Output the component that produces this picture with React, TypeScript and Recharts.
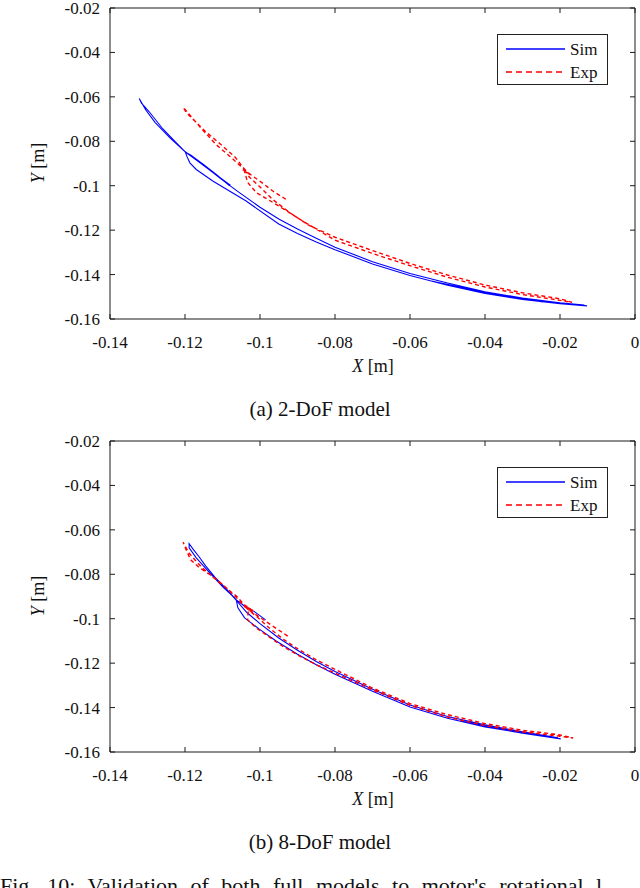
import React from 'react';
import { LineChart, Line, XAxis, YAxis, Legend } from 'recharts';

const FONT = '"Liberation Serif", "Times New Roman", Times, serif';

const xTicks = [-0.14, -0.12, -0.1, -0.08, -0.06, -0.04, -0.02, 0];
const yTicks = [-0.16, -0.14, -0.12, -0.1, -0.08, -0.06, -0.04, -0.02];
const seriesNames = ['Sim', 'Exp'];
const captions = ['(a) 2-DoF model', '(b) 8-DoF model'];
const figText = "Fig. 10: Validation of both full models to motor's rotational l";

// 2-DoF model, simulated trajectory [X, Y]
const sim2DoF: number[][] = [
  [-0.1079, -0.0998], [-0.112, -0.0947], [-0.116, -0.0897], [-0.1201, -0.0845],
  [-0.124, -0.0785], [-0.128, -0.0715], [-0.1305, -0.0658], [-0.1322, -0.0607],
  [-0.1316, -0.0628], [-0.1296, -0.0666], [-0.1262, -0.0738], [-0.1227, -0.08],
  [-0.1199, -0.0849], [-0.1195, -0.0868], [-0.1187, -0.0897], [-0.117, -0.0927],
  [-0.1126, -0.0979], [-0.1037, -0.1069], [-0.095, -0.1172], [-0.09, -0.1215],
  [-0.085, -0.1253], [-0.08, -0.1288], [-0.07, -0.1352], [-0.06, -0.1404],
  [-0.05, -0.1448], [-0.04, -0.1485], [-0.03, -0.1512], [-0.02, -0.1531],
  [-0.0128, -0.1541], [-0.022, -0.1526], [-0.035, -0.1497], [-0.054, -0.143],
  [-0.04, -0.1481], [-0.025, -0.1522], [-0.0135, -0.1537], [-0.02, -0.1527],
  [-0.03, -0.1506], [-0.04, -0.1477], [-0.05, -0.1438], [-0.06, -0.1395],
  [-0.07, -0.1342], [-0.08, -0.1277], [-0.085, -0.1237], [-0.09, -0.1195],
  [-0.095, -0.115], [-0.1, -0.1097], [-0.1055, -0.1031], [-0.11, -0.0975],
  [-0.1152, -0.0906], [-0.1199, -0.0849], [-0.1185, -0.0862], [-0.115, -0.0905],
  [-0.1115, -0.0952], [-0.1081, -0.1],
];

// 2-DoF panel, experimental trajectory [X, Y]
const exp2DoF: number[][] = [
  [-0.0931, -0.1061], [-0.0966, -0.1024], [-0.0995, -0.0986], [-0.102, -0.0956],
  [-0.1037, -0.0934], [-0.1058, -0.0902], [-0.1081, -0.0867], [-0.1117, -0.0815],
  [-0.1155, -0.0745], [-0.1185, -0.0686], [-0.1205, -0.0647], [-0.1196, -0.0672],
  [-0.1176, -0.0705], [-0.1146, -0.0755], [-0.1106, -0.0812], [-0.1066, -0.0872],
  [-0.1045, -0.0918], [-0.103, -0.0945], [-0.1046, -0.0928], [-0.1026, -0.095],
  [-0.1041, -0.0937], [-0.1033, -0.0985], [-0.101, -0.1031], [-0.0957, -0.1084],
  [-0.0886, -0.1159], [-0.08, -0.1245], [-0.07, -0.1305], [-0.06, -0.136],
  [-0.05, -0.1412], [-0.04, -0.1456], [-0.03, -0.149], [-0.02, -0.1516],
  [-0.0168, -0.1525], [-0.02, -0.1509], [-0.03, -0.1482], [-0.04, -0.1447],
  [-0.05, -0.1402], [-0.06, -0.135], [-0.07, -0.1292], [-0.08, -0.1232],
  [-0.087, -0.1178], [-0.092, -0.1122], [-0.0966, -0.1062], [-0.1, -0.1006],
  [-0.1028, -0.0962], [-0.1037, -0.0938],
];

// 8-DoF model, simulated trajectory [X, Y]
const sim8DoF: number[][] = [
  [-0.0985, -0.1005], [-0.1015, -0.0968], [-0.104, -0.0945], [-0.1063, -0.0915],
  [-0.109, -0.0866], [-0.1121, -0.0812], [-0.1145, -0.0762], [-0.1162, -0.0722],
  [-0.1178, -0.0688], [-0.1189, -0.0662], [-0.1189, -0.0681], [-0.117, -0.0726],
  [-0.1134, -0.0794], [-0.11, -0.0855], [-0.1075, -0.0895], [-0.1063, -0.0918],
  [-0.1059, -0.0951], [-0.1041, -0.0996], [-0.1001, -0.1048], [-0.0957, -0.11],
  [-0.09, -0.116], [-0.085, -0.1207], [-0.08, -0.125], [-0.07, -0.1327],
  [-0.06, -0.1397], [-0.05, -0.1448], [-0.04, -0.1487], [-0.03, -0.1515],
  [-0.0198, -0.1541], [-0.03, -0.1512], [-0.046, -0.1462], [-0.035, -0.15],
  [-0.0205, -0.1536], [-0.03, -0.1509], [-0.04, -0.1478], [-0.05, -0.144],
  [-0.06, -0.1388], [-0.07, -0.1318], [-0.08, -0.1238], [-0.085, -0.1193],
  [-0.09, -0.1142], [-0.095, -0.1087], [-0.1, -0.1022], [-0.1035, -0.0972],
  [-0.1063, -0.0918],
];

// 8-DoF panel, experimental trajectory [X, Y]
const exp8DoF: number[][] = [
  [-0.0926, -0.1078], [-0.0962, -0.1038], [-0.0995, -0.1], [-0.1023, -0.0968],
  [-0.1037, -0.0951], [-0.1063, -0.0905], [-0.109, -0.0861], [-0.1112, -0.0828],
  [-0.1138, -0.0795], [-0.1165, -0.0752], [-0.119, -0.0703], [-0.1205, -0.0656],
  [-0.1198, -0.0686], [-0.1185, -0.0735], [-0.1161, -0.0771], [-0.1134, -0.0801],
  [-0.1112, -0.0831], [-0.109, -0.0862], [-0.1063, -0.0898], [-0.104, -0.094],
  [-0.1025, -0.0956], [-0.1043, -0.0944], [-0.1015, -0.0966], [-0.1031, -0.0958],
  [-0.1033, -0.1005], [-0.101, -0.1042], [-0.0984, -0.1072], [-0.0948, -0.1115],
  [-0.09, -0.1163], [-0.085, -0.1207], [-0.08, -0.1245], [-0.07, -0.132],
  [-0.06, -0.139], [-0.05, -0.1443], [-0.04, -0.1481], [-0.03, -0.1509],
  [-0.02, -0.1529], [-0.0165, -0.1537], [-0.02, -0.1523], [-0.03, -0.1502],
  [-0.04, -0.1472], [-0.05, -0.1432], [-0.06, -0.1382], [-0.07, -0.1312],
  [-0.08, -0.1228], [-0.085, -0.1185], [-0.09, -0.1135], [-0.094, -0.109],
  [-0.0975, -0.1042], [-0.1005, -0.0996], [-0.1037, -0.0951],
];

const toPts = (a: number[][]) => a.map(([x, y]) => ({ x, y }));

const SIM_COLOR = '#0000ff';
const EXP_COLOR = '#ff0000';
const AXIS_COLOR = '#1a1a1a';

function LegendBox() {
  return (
    <div style={{ width: 109, height: 49, border: '1px solid #222', background: '#fff' }}>
      <svg width={109} height={49} style={{ display: 'block' }}>
        <line x1={8} x2={67} y1={14} y2={14} stroke={SIM_COLOR} strokeWidth={1.3} />
        <text x={72} y={19.5} fontFamily={FONT} fontSize={17} fill="#111">{seriesNames[0]}</text>
        <line x1={8} x2={67} y1={37} y2={37} stroke={EXP_COLOR} strokeWidth={1.6} strokeDasharray="6 4" />
        <text x={72} y={42.5} fontFamily={FONT} fontSize={17} fill="#111">{seriesNames[1]}</text>
      </svg>
    </div>
  );
}

const tickStyle = { fill: '#111', fontSize: 17, fontFamily: FONT };
const blank = () => '';

function Panel({ top, sim, exp, caption }: { top: number; sim: number[][]; exp: number[][]; caption: string }) {
  const simPts = toPts(sim);
  const expPts = toPts(exp);
  return (
    <div style={{ position: 'absolute', left: 0, top, width: 640, height: 440 }}>
      <LineChart width={640} height={362} margin={{ top: 7, right: 4, left: 0, bottom: 0 }}>
        <XAxis type="number" dataKey="x" domain={[-0.14, 0]} ticks={xTicks} interval={0}
          allowDataOverflow tickSize={-5} tickMargin={22} height={43}
          stroke={AXIS_COLOR} tick={tickStyle} />
        <XAxis xAxisId="top" orientation="top" type="number" dataKey="x" domain={[-0.14, 0]}
          ticks={xTicks} interval={0} allowDataOverflow tickSize={-5} height={1}
          stroke={AXIS_COLOR} tickFormatter={blank} />
        <YAxis type="number" dataKey="y" domain={[-0.16, -0.02]} ticks={yTicks} interval={0}
          allowDataOverflow tickSize={-5} tickMargin={15} width={110}
          stroke={AXIS_COLOR} tick={tickStyle} />
        <YAxis yAxisId="right" orientation="right" type="number" dataKey="y" domain={[-0.16, -0.02]}
          ticks={yTicks} interval={0} allowDataOverflow tickSize={-5} width={1}
          stroke={AXIS_COLOR} tickFormatter={blank} />
        <Line xAxisId="top" yAxisId="right" data={simPts} dataKey="y" stroke="none"
          dot={false} activeDot={false} legendType="none" isAnimationActive={false} />
        <Line data={simPts} dataKey="y" name={seriesNames[0]} type="linear" stroke={SIM_COLOR}
          strokeWidth={1.1} dot={false} activeDot={false} isAnimationActive={false} />
        <Line data={expPts} dataKey="y" name={seriesNames[1]} type="linear" stroke={EXP_COLOR}
          strokeWidth={1.4} strokeDasharray="4 3" dot={false} activeDot={false} isAnimationActive={false} />
        <Legend layout="vertical" align="center" verticalAlign="middle"
          content={() => <LegendBox />}
          wrapperStyle={{ left: 497, top: 34, width: 111, height: 51, right: 'auto', bottom: 'auto' }} />
      </LineChart>
      <div style={{ position: 'absolute', left: 38, top: 163, transform: 'translate(-50%, -50%) rotate(-90deg)',
        fontFamily: FONT, fontSize: 18, whiteSpace: 'nowrap', color: '#111', lineHeight: '20px' }}>
        <i>Y</i> [m]
      </div>
      <div style={{ position: 'absolute', left: 273, width: 200, top: 356, textAlign: 'center',
        fontFamily: FONT, fontSize: 18, color: '#111', lineHeight: '20px' }}>
        <i>X</i> [m]
      </div>
      <div style={{ position: 'absolute', left: 0, width: 640, top: 396, textAlign: 'center',
        fontFamily: FONT, fontSize: 21, color: '#111', lineHeight: '26px' }}>
        {caption}
      </div>
    </div>
  );
}

export default function App() {
  return (
    <div style={{ position: 'absolute', left: 0, top: 0, width: 640, height: 888, overflow: 'hidden', background: '#fff' }}>
      <Panel top={0} sim={sim2DoF} exp={exp2DoF} caption={captions[0]} />
      <Panel top={433} sim={sim8DoF} exp={exp8DoF} caption={captions[1]} />
      <div style={{ position: 'absolute', left: 0, top: 873, whiteSpace: 'nowrap',
        fontFamily: FONT, fontSize: 22, color: '#111', lineHeight: '26px', wordSpacing: 7 }}>
        {figText}
      </div>
    </div>
  );
}
